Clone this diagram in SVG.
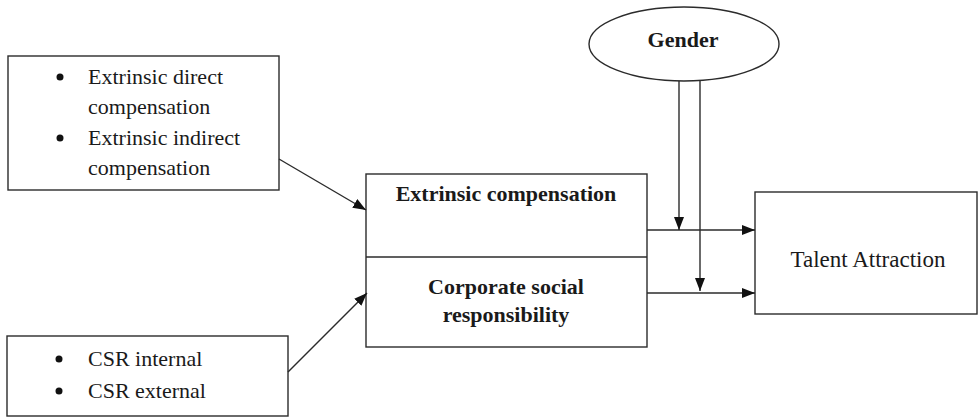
<svg xmlns="http://www.w3.org/2000/svg" width="978" height="417" viewBox="0 0 978 417">
<defs>
<style>
.box{fill:#fff;stroke:#2b2b2b;stroke-width:1.4}
.ln{fill:none;stroke:#2b2b2b;stroke-width:1.4}
text{font-family:'Liberation Serif','Times New Roman',serif;font-size:22px;fill:#1a1a1a}
.b{font-weight:bold}
.m{text-anchor:middle}
</style>
<marker id="ah" viewBox="0 0 13 10" refX="13" refY="5" markerWidth="13" markerHeight="10" markerUnits="userSpaceOnUse" orient="auto">
<path d="M0,0 L13,5 L0,10 Z" fill="#111"/>
</marker>
</defs>
<rect width="978" height="417" fill="#fff"/>
<g id="extrinsic-items">
<rect class="box" x="8" y="56" width="271" height="134"/>
<circle cx="60" cy="77" r="3.5" fill="#111"/>
<text x="88" y="84">Extrinsic direct</text>
<text x="88" y="114">compensation</text>
<circle cx="60" cy="138" r="3.5" fill="#111"/>
<text x="88" y="145">Extrinsic indirect</text>
<text x="88" y="175">compensation</text>
</g>
<g id="csr-items">
<rect class="box" x="7" y="336" width="281" height="80"/>
<circle cx="59" cy="359" r="3.5" fill="#111"/>
<text x="88" y="366">CSR internal</text>
<circle cx="59" cy="391" r="3.5" fill="#111"/>
<text x="88" y="398">CSR external</text>
</g>
<g id="predictors">
<rect class="box" x="366" y="174" width="281" height="173"/>
<line class="ln" x1="366" y1="257" x2="647" y2="257"/>
<text class="b m" x="506" y="201">Extrinsic compensation</text>
<text class="b m" x="506" y="294">Corporate social</text>
<text class="b m" x="506" y="322">responsibility</text>
</g>
<g id="gender">
<ellipse class="box" cx="684" cy="44" rx="95" ry="37"/>
<text class="b m" x="683" y="47">Gender</text>
</g>
<g id="talent">
<rect class="box" x="755" y="192" width="222" height="122"/>
<text class="m" x="868" y="267" style="font-size:23px">Talent Attraction</text>
</g>
<g id="connectors">
<line class="ln" x1="279" y1="159" x2="366" y2="210" marker-end="url(#ah)"/>
<line class="ln" x1="288" y1="372" x2="367" y2="293" marker-end="url(#ah)"/>
<line class="ln" x1="647" y1="230" x2="755" y2="230" marker-end="url(#ah)"/>
<line class="ln" x1="647" y1="293" x2="755" y2="293" marker-end="url(#ah)"/>
<line class="ln" x1="679" y1="81" x2="679" y2="230" marker-end="url(#ah)"/>
<line class="ln" x1="700" y1="80" x2="700" y2="291" marker-end="url(#ah)"/>
</g>
</svg>
